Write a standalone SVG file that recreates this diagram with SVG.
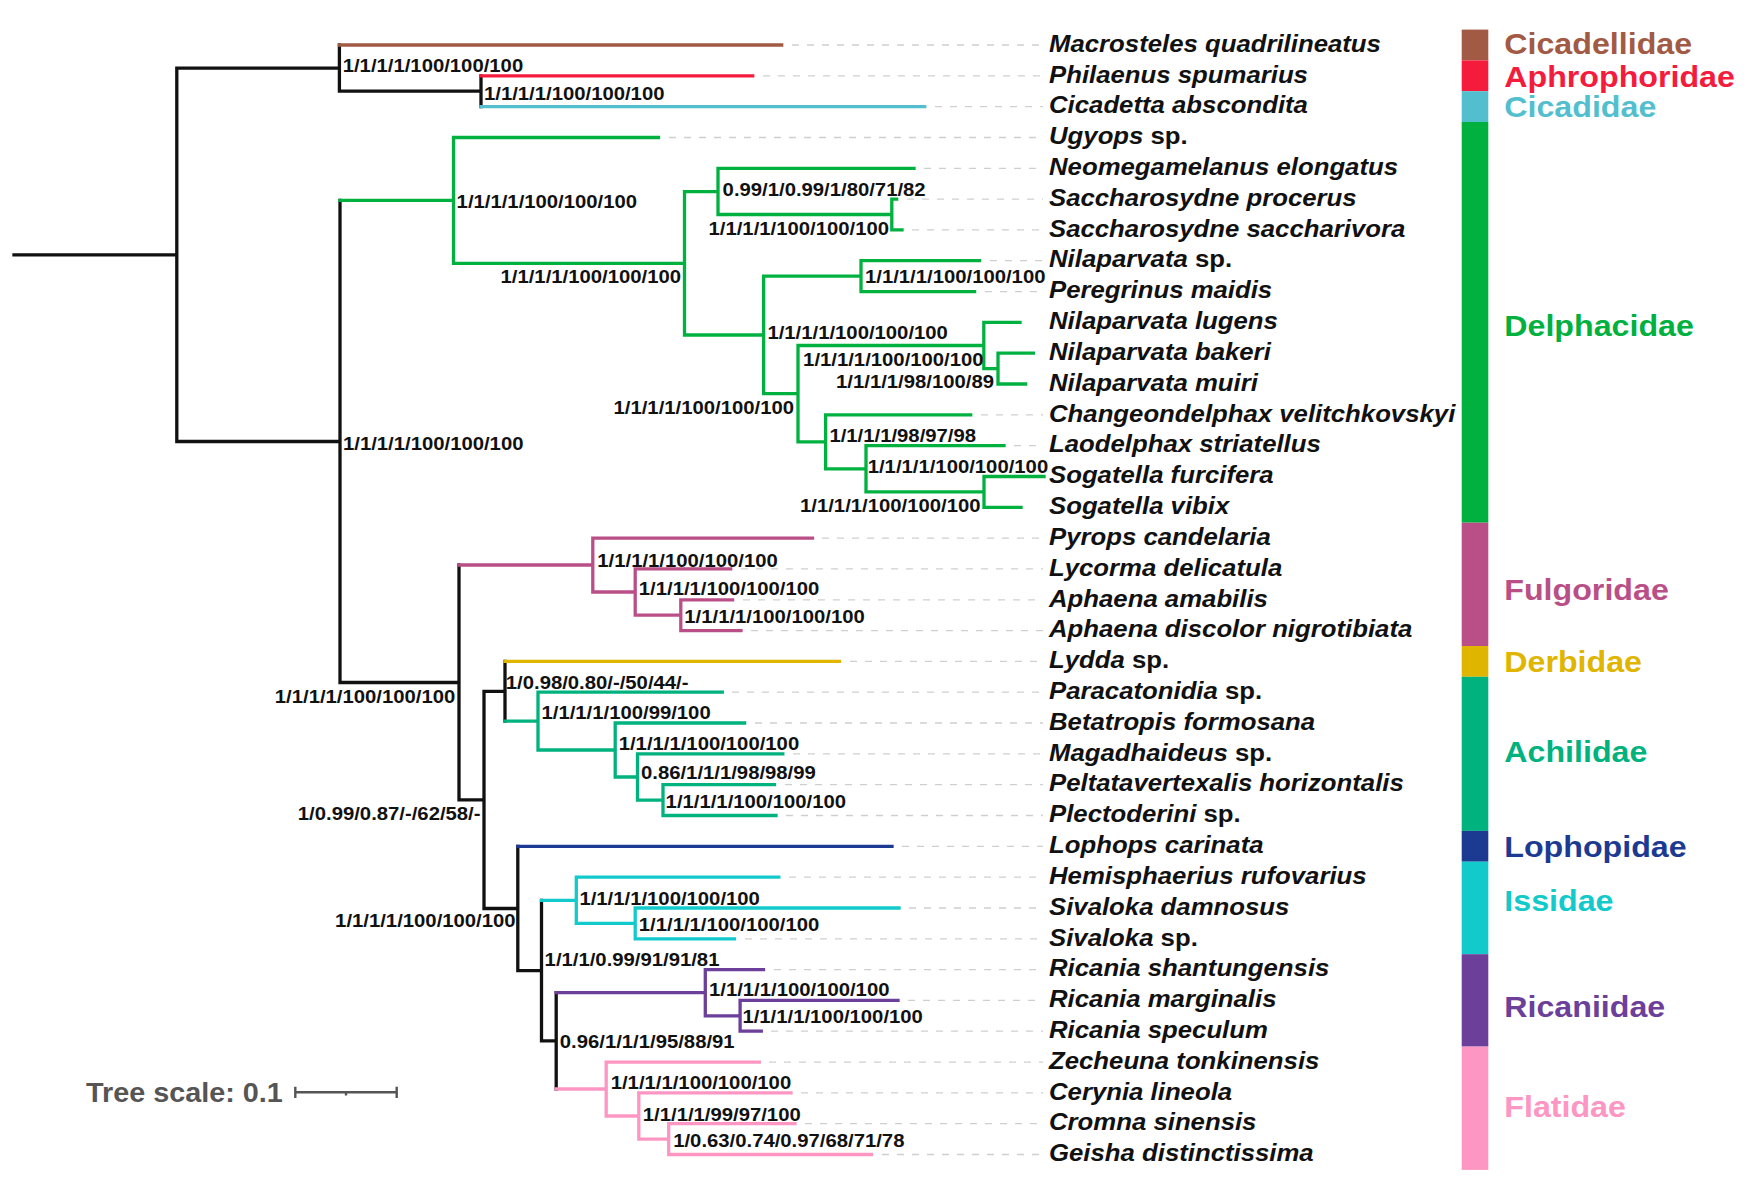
<svg xmlns="http://www.w3.org/2000/svg" width="1764" height="1184" viewBox="0 0 1764 1184">
<style>
.br{fill:none;stroke-width:3.3;stroke-linecap:square;stroke-linejoin:miter}
.k{stroke:#111}.c1{stroke:#A25A45}.c2{stroke:#F51B3C}.c3{stroke:#53BFCE}.c4{stroke:#00B140}.c5{stroke:#BA4F87}.c6{stroke:#DFB500}.c7{stroke:#00B27D}.c8{stroke:#1D3A93}.c9{stroke:#12CACB}.c10{stroke:#6B3F9A}.c11{stroke:#FD96C2}
.lead{stroke:#cfcfcf;stroke-width:1.3;stroke-dasharray:7 8}
text{font-family:"Liberation Sans",Arial,sans-serif;font-weight:bold}
.tx{font-size:23.2px;font-style:italic;fill:#111}
.up{font-style:normal}
.sup{font-size:18.8px;fill:#111}
.fam{font-size:29px}
</style>
<rect width="1764" height="1184" fill="#fff"/>
<g id="connectors">
<path class="br k" d="M14 254.8H176.8M176.8 68.1V441.5M176.8 68.1H339.4M339.4 45V91.2M339.4 91.2H481M481 75.8V106.6M176.8 441.5H340M340 200.4V682.5M340 682.5H459M459 565V799.9M459 799.9H484M484 691.3V908.5M484 691.3H505M505 661.4V721.1M484 908.5H517.8M517.8 846.3V970.6M517.8 970.6H541.5M541.5 900.3V1040.9M541.5 1040.9H556.2M556.2 992.7V1089"/>
<path class="br c1" d="M339.4 45H781.7"/>
<path class="br c2" d="M481 75.8H752.7"/>
<path class="br c3" d="M481 106.6H924.7"/>
<path class="br c4" d="M340 200.4H453.5M453.5 137.5V263.3M453.5 137.5H658.5M453.5 263.3H684.5M684.5 191.7V335M684.5 191.7H718M718 168.3V214.5M718 168.3H914M718 214.5H891.8M891.8 199.1V229.9M891.8 199.1H896.7M891.8 229.9H902M684.5 335H763.6M763.6 276.2V393.7M763.6 276.2H861M861 260.7V291.6M861 260.7H979.5M861 291.6H974.6M763.6 393.7H798M798 345.5V441.8M798 345.5H983.8M983.8 322.4V368.6M983.8 322.4H1020M983.8 368.6H998M998 353.2V384M998 353.2H1033.4M998 384H1025.6M798 441.8H825.6M825.6 414.8V468.8M825.6 414.8H970.7M825.6 468.8H866M866 445.7V491.9M866 445.7H1004M866 491.9H984M984 476.5V507.3M984 476.5H1044M984 507.3H1021"/>
<path class="br c5" d="M459 565H592.8M592.8 538.1V592M592.8 538.1H812.5M592.8 592H635.2M635.2 568.9V615.2M635.2 568.9H730.7M635.2 615.2H680.8M680.8 599.8V630.6M680.8 599.8H732.6M680.8 630.6H741"/>
<path class="br c6" d="M505 661.4H839.5"/>
<path class="br c7" d="M505 721.1H538M538 692.2V750M538 692.2H722.3M538 750H615.2M615.2 723V777M615.2 723H744.6M615.2 777H637.5M637.5 753.9V800.1M637.5 753.9H782.8M637.5 800.1H663M663 784.7V815.5M663 784.7H774.5M663 815.5H776"/>
<path class="br c8" d="M517.8 846.3H892"/>
<path class="br c9" d="M541.5 900.3H576.3M576.3 877.1V923.4M576.3 877.1H778.8M576.3 923.4H635.2M635.2 908V938.8M635.2 908H899M635.2 938.8H734.5"/>
<path class="br c10" d="M556.2 992.7H705.3M705.3 969.6V1015.8M705.3 969.6H763.5M705.3 1015.8H740.1M740.1 1000.4V1031.2M740.1 1000.4H898M740.1 1031.2H761.3"/>
<path class="br c11" d="M556.2 1089H606.2M606.2 1062.1V1116M606.2 1062.1H759.3M606.2 1116H638.8M638.8 1092.9V1139.1M638.8 1092.9H791M638.8 1139.1H668.7M668.7 1123.7V1154.5M668.7 1123.7H795M668.7 1154.5H871.5"/>
</g>
<g id="leaf-00"><line class="lead" x1="792" y1="45" x2="1043" y2="45"/><text class="tx" transform="translate(1049 51.7) scale(1.11 1)">Macrosteles quadrilineatus</text></g>
<g id="leaf-01"><line class="lead" x1="763" y1="75.8" x2="1043" y2="75.8"/><text class="tx" transform="translate(1049 82.5) scale(1.11 1)">Philaenus spumarius</text></g>
<g id="leaf-02"><line class="lead" x1="935" y1="106.6" x2="1043" y2="106.6"/><text class="tx" transform="translate(1049 113.3) scale(1.11 1)">Cicadetta abscondita</text></g>
<g id="leaf-03"><line class="lead" x1="669" y1="137.5" x2="1043" y2="137.5"/><text class="tx" transform="translate(1049 144.2) scale(1.11 1)">Ugyops <tspan class="up">sp.</tspan></text></g>
<g id="leaf-04"><line class="lead" x1="924" y1="168.3" x2="1043" y2="168.3"/><text class="tx" transform="translate(1049 175) scale(1.11 1)">Neomegamelanus elongatus</text></g>
<g id="leaf-05"><line class="lead" x1="907" y1="199.1" x2="1043" y2="199.1"/><text class="tx" transform="translate(1049 205.8) scale(1.11 1)">Saccharosydne procerus</text></g>
<g id="leaf-06"><line class="lead" x1="912" y1="229.9" x2="1043" y2="229.9"/><text class="tx" transform="translate(1049 236.6) scale(1.11 1)">Saccharosydne saccharivora</text></g>
<g id="leaf-07"><line class="lead" x1="990" y1="260.7" x2="1043" y2="260.7"/><text class="tx" transform="translate(1049 267.4) scale(1.11 1)">Nilaparvata <tspan class="up">sp.</tspan></text></g>
<g id="leaf-08"><line class="lead" x1="985" y1="291.6" x2="1043" y2="291.6"/><text class="tx" transform="translate(1049 298.3) scale(1.11 1)">Peregrinus maidis</text></g>
<g id="leaf-09"><text class="tx" transform="translate(1049 329.1) scale(1.11 1)">Nilaparvata lugens</text></g>
<g id="leaf-10"><text class="tx" transform="translate(1049 359.9) scale(1.11 1)">Nilaparvata bakeri</text></g>
<g id="leaf-11"><text class="tx" transform="translate(1049 390.7) scale(1.11 1)">Nilaparvata muiri</text></g>
<g id="leaf-12"><line class="lead" x1="981" y1="414.8" x2="1043" y2="414.8"/><text class="tx" transform="translate(1049 421.5) scale(1.11 1)">Changeondelphax velitchkovskyi</text></g>
<g id="leaf-13"><line class="lead" x1="1014" y1="445.7" x2="1043" y2="445.7"/><text class="tx" transform="translate(1049 452.4) scale(1.11 1)">Laodelphax striatellus</text></g>
<g id="leaf-14"><text class="tx" transform="translate(1049 483.2) scale(1.11 1)">Sogatella furcifera</text></g>
<g id="leaf-15"><text class="tx" transform="translate(1049 514) scale(1.11 1)">Sogatella vibix</text></g>
<g id="leaf-16"><line class="lead" x1="822" y1="538.1" x2="1043" y2="538.1"/><text class="tx" transform="translate(1049 544.8) scale(1.11 1)">Pyrops candelaria</text></g>
<g id="leaf-17"><line class="lead" x1="741" y1="568.9" x2="1043" y2="568.9"/><text class="tx" transform="translate(1049 575.6) scale(1.11 1)">Lycorma delicatula</text></g>
<g id="leaf-18"><line class="lead" x1="743" y1="599.8" x2="1043" y2="599.8"/><text class="tx" transform="translate(1049 606.5) scale(1.11 1)">Aphaena amabilis</text></g>
<g id="leaf-19"><line class="lead" x1="751" y1="630.6" x2="1043" y2="630.6"/><text class="tx" transform="translate(1049 637.3) scale(1.11 1)">Aphaena discolor nigrotibiata</text></g>
<g id="leaf-20"><line class="lead" x1="850" y1="661.4" x2="1043" y2="661.4"/><text class="tx" transform="translate(1049 668.1) scale(1.11 1)">Lydda <tspan class="up">sp.</tspan></text></g>
<g id="leaf-21"><line class="lead" x1="732" y1="692.2" x2="1043" y2="692.2"/><text class="tx" transform="translate(1049 698.9) scale(1.11 1)">Paracatonidia <tspan class="up">sp.</tspan></text></g>
<g id="leaf-22"><line class="lead" x1="755" y1="723" x2="1043" y2="723"/><text class="tx" transform="translate(1049 729.7) scale(1.11 1)">Betatropis formosana</text></g>
<g id="leaf-23"><line class="lead" x1="793" y1="753.9" x2="1043" y2="753.9"/><text class="tx" transform="translate(1049 760.6) scale(1.11 1)">Magadhaideus <tspan class="up">sp.</tspan></text></g>
<g id="leaf-24"><line class="lead" x1="785" y1="784.7" x2="1043" y2="784.7"/><text class="tx" transform="translate(1049 791.4) scale(1.11 1)">Peltatavertexalis horizontalis</text></g>
<g id="leaf-25"><line class="lead" x1="786" y1="815.5" x2="1043" y2="815.5"/><text class="tx" transform="translate(1049 822.2) scale(1.11 1)">Plectoderini <tspan class="up">sp.</tspan></text></g>
<g id="leaf-26"><line class="lead" x1="902" y1="846.3" x2="1043" y2="846.3"/><text class="tx" transform="translate(1049 853) scale(1.11 1)">Lophops carinata</text></g>
<g id="leaf-27"><line class="lead" x1="789" y1="877.1" x2="1043" y2="877.1"/><text class="tx" transform="translate(1049 883.8) scale(1.11 1)">Hemisphaerius rufovarius</text></g>
<g id="leaf-28"><line class="lead" x1="909" y1="908" x2="1043" y2="908"/><text class="tx" transform="translate(1049 914.7) scale(1.11 1)">Sivaloka damnosus</text></g>
<g id="leaf-29"><line class="lead" x1="745" y1="938.8" x2="1043" y2="938.8"/><text class="tx" transform="translate(1049 945.5) scale(1.11 1)">Sivaloka <tspan class="up">sp.</tspan></text></g>
<g id="leaf-30"><line class="lead" x1="774" y1="969.6" x2="1043" y2="969.6"/><text class="tx" transform="translate(1049 976.3) scale(1.11 1)">Ricania shantungensis</text></g>
<g id="leaf-31"><line class="lead" x1="908" y1="1000.4" x2="1043" y2="1000.4"/><text class="tx" transform="translate(1049 1007.1) scale(1.11 1)">Ricania marginalis</text></g>
<g id="leaf-32"><line class="lead" x1="771" y1="1031.2" x2="1043" y2="1031.2"/><text class="tx" transform="translate(1049 1037.9) scale(1.11 1)">Ricania speculum</text></g>
<g id="leaf-33"><line class="lead" x1="769" y1="1062.1" x2="1043" y2="1062.1"/><text class="tx" transform="translate(1049 1068.8) scale(1.11 1)">Zecheuna tonkinensis</text></g>
<g id="leaf-34"><line class="lead" x1="801" y1="1092.9" x2="1043" y2="1092.9"/><text class="tx" transform="translate(1049 1099.6) scale(1.11 1)">Cerynia lineola</text></g>
<g id="leaf-35"><line class="lead" x1="805" y1="1123.7" x2="1043" y2="1123.7"/><text class="tx" transform="translate(1049 1130.4) scale(1.11 1)">Cromna sinensis</text></g>
<g id="leaf-36"><line class="lead" x1="882" y1="1154.5" x2="1043" y2="1154.5"/><text class="tx" transform="translate(1049 1161.2) scale(1.11 1)">Geisha distinctissima</text></g>
<g id="support-labels">
<g id="n01"><text class="sup" transform="translate(342.7 71.7) scale(1.08 1)">1/1/1/1/100/100/100</text></g>
<g id="n02"><text class="sup" transform="translate(484 99.7) scale(1.08 1)">1/1/1/1/100/100/100</text></g>
<g id="n03"><text class="sup" transform="translate(456.6 208.4) scale(1.08 1)">1/1/1/1/100/100/100</text></g>
<g id="n04"><text class="sup" text-anchor="end" transform="translate(681 282.7) scale(1.08 1)">1/1/1/1/100/100/100</text></g>
<g id="n05"><text class="sup" transform="translate(722.6 195.7) scale(1.08 1)">0.99/1/0.99/1/80/71/82</text></g>
<g id="n06"><text class="sup" text-anchor="end" transform="translate(889 235) scale(1.08 1)">1/1/1/1/100/100/100</text></g>
<g id="n07"><text class="sup" transform="translate(865 283.4) scale(1.08 1)">1/1/1/1/100/100/100</text></g>
<g id="n08"><text class="sup" transform="translate(767.4 339.4) scale(1.08 1)">1/1/1/1/100/100/100</text></g>
<g id="n09"><text class="sup" text-anchor="end" transform="translate(983.6 366) scale(1.08 1)">1/1/1/1/100/100/100</text></g>
<g id="n10"><text class="sup" text-anchor="end" transform="translate(994 388.4) scale(1.08 1)">1/1/1/1/98/100/89</text></g>
<g id="n11"><text class="sup" text-anchor="end" transform="translate(794 414) scale(1.08 1)">1/1/1/1/100/100/100</text></g>
<g id="n12"><text class="sup" transform="translate(829.4 442) scale(1.08 1)">1/1/1/1/98/97/98</text></g>
<g id="n13"><text class="sup" transform="translate(867.7 472.7) scale(1.08 1)">1/1/1/1/100/100/100</text></g>
<g id="n14"><text class="sup" text-anchor="end" transform="translate(980.5 511.7) scale(1.08 1)">1/1/1/1/100/100/100</text></g>
<g id="n15"><text class="sup" transform="translate(343 450) scale(1.08 1)">1/1/1/1/100/100/100</text></g>
<g id="n16"><text class="sup" transform="translate(597.3 566.7) scale(1.08 1)">1/1/1/1/100/100/100</text></g>
<g id="n17"><text class="sup" transform="translate(638.8 595.4) scale(1.08 1)">1/1/1/1/100/100/100</text></g>
<g id="n18"><text class="sup" transform="translate(684.3 623.4) scale(1.08 1)">1/1/1/1/100/100/100</text></g>
<g id="n19"><text class="sup" text-anchor="end" transform="translate(455.3 702.7) scale(1.08 1)">1/1/1/1/100/100/100</text></g>
<g id="n20"><text class="sup" text-anchor="end" transform="translate(480.5 820) scale(1.08 1)">1/0.99/0.87/-/62/58/-</text></g>
<g id="n21"><text class="sup" transform="translate(505.8 689.4) scale(1.08 1)">1/0.98/0.80/-/50/44/-</text></g>
<g id="n22"><text class="sup" transform="translate(541.5 719) scale(1.08 1)">1/1/1/1/100/99/100</text></g>
<g id="n23"><text class="sup" transform="translate(618.7 750) scale(1.08 1)">1/1/1/1/100/100/100</text></g>
<g id="n24"><text class="sup" transform="translate(641 779.4) scale(1.08 1)">0.86/1/1/1/98/98/99</text></g>
<g id="n25"><text class="sup" transform="translate(665.6 807.7) scale(1.08 1)">1/1/1/1/100/100/100</text></g>
<g id="n26"><text class="sup" text-anchor="end" transform="translate(515.6 927.4) scale(1.08 1)">1/1/1/1/100/100/100</text></g>
<g id="n27"><text class="sup" transform="translate(579.4 905.4) scale(1.08 1)">1/1/1/1/100/100/100</text></g>
<g id="n28"><text class="sup" transform="translate(638.8 930.7) scale(1.08 1)">1/1/1/1/100/100/100</text></g>
<g id="n29"><text class="sup" transform="translate(544.6 966) scale(1.08 1)">1/1/1/0.99/91/91/81</text></g>
<g id="n30"><text class="sup" transform="translate(709 996) scale(1.08 1)">1/1/1/1/100/100/100</text></g>
<g id="n31"><text class="sup" transform="translate(742.4 1022.7) scale(1.08 1)">1/1/1/1/100/100/100</text></g>
<g id="n32"><text class="sup" transform="translate(559.8 1048.4) scale(1.08 1)">0.96/1/1/1/95/88/91</text></g>
<g id="n33"><text class="sup" transform="translate(610.7 1089.4) scale(1.08 1)">1/1/1/1/100/100/100</text></g>
<g id="n34"><text class="sup" transform="translate(642.8 1120.7) scale(1.08 1)">1/1/1/1/99/97/100</text></g>
<g id="n35"><text class="sup" transform="translate(673.2 1146.7) scale(1.08 1)">1/0.63/0.74/0.97/68/71/78</text></g>
</g>
<g id="fam-cicadellidae"><rect x="1461.7" y="29.6" width="26.6" height="30.8" fill="#A25A45"/><text class="fam" fill="#A25A45" transform="translate(1504.3 54) scale(1.11 1)">Cicadellidae</text></g>
<g id="fam-aphrophoridae"><rect x="1461.7" y="60.4" width="26.6" height="30.8" fill="#F51B3C"/><text class="fam" fill="#F51B3C" transform="translate(1504.3 86.5) scale(1.11 1)">Aphrophoridae</text></g>
<g id="fam-cicadidae"><rect x="1461.7" y="91.2" width="26.6" height="30.8" fill="#53BFCE"/><text class="fam" fill="#53BFCE" transform="translate(1504.3 116.5) scale(1.11 1)">Cicadidae</text></g>
<g id="fam-delphacidae"><rect x="1461.7" y="122" width="26.6" height="400.7" fill="#00B140"/><text class="fam" fill="#00B140" transform="translate(1504.3 335.5) scale(1.11 1)">Delphacidae</text></g>
<g id="fam-fulgoridae"><rect x="1461.7" y="522.7" width="26.6" height="123.3" fill="#BA4F87"/><text class="fam" fill="#BA4F87" transform="translate(1504.3 599.5) scale(1.11 1)">Fulgoridae</text></g>
<g id="fam-derbidae"><rect x="1461.7" y="646" width="26.6" height="30.8" fill="#DFB500"/><text class="fam" fill="#DFB500" transform="translate(1504.3 672) scale(1.11 1)">Derbidae</text></g>
<g id="fam-achilidae"><rect x="1461.7" y="676.8" width="26.6" height="154.1" fill="#00B27D"/><text class="fam" fill="#00B27D" transform="translate(1504.3 762) scale(1.11 1)">Achilidae</text></g>
<g id="fam-lophopidae"><rect x="1461.7" y="830.9" width="26.6" height="30.8" fill="#1D3A93"/><text class="fam" fill="#1D3A93" transform="translate(1504.3 857) scale(1.11 1)">Lophopidae</text></g>
<g id="fam-issidae"><rect x="1461.7" y="861.7" width="26.6" height="92.5" fill="#12CACB"/><text class="fam" fill="#12CACB" transform="translate(1504.3 910.5) scale(1.11 1)">Issidae</text></g>
<g id="fam-ricaniidae"><rect x="1461.7" y="954.2" width="26.6" height="92.4" fill="#6B3F9A"/><text class="fam" fill="#6B3F9A" transform="translate(1504.3 1016.5) scale(1.11 1)">Ricaniidae</text></g>
<g id="fam-flatidae"><rect x="1461.7" y="1046.6" width="26.6" height="123.3" fill="#FD96C2"/><text class="fam" fill="#FD96C2" transform="translate(1504.3 1116.5) scale(1.11 1)">Flatidae</text></g>
<g id="tree-scale">
<text fill="#555" font-size="28.5" transform="translate(86 1101.7) scale(1.01 1)">Tree scale: 0.1</text>
<path d="M295.3 1092.3H396.7M295.3 1086.7V1097.9M396.7 1086.7V1097.9M346 1092.3V1095.5" fill="none" stroke="#555" stroke-width="2.4"/>
</g>
</svg>
